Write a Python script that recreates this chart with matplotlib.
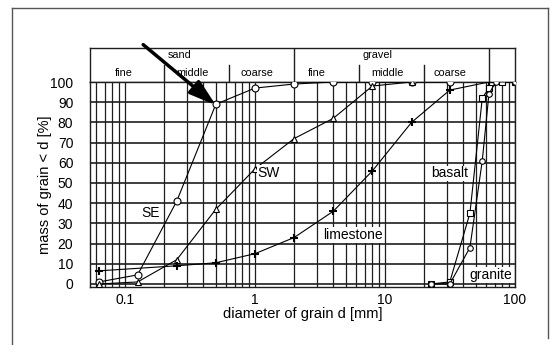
import matplotlib
matplotlib.use("Agg")
import matplotlib.pyplot as plt
from matplotlib.lines import Line2D
import numpy as np

plt.rcParams['font.family'] = ['Liberation Sans', 'DejaVu Sans']

# ---- data ----
d_se = [0.063, 0.125, 0.25, 0.5, 1, 2, 4, 8, 16, 31.5]
m_se = [1, 4.5, 41, 89, 97, 99, 100, 100, 100, 100]

d_sw = [0.063, 0.125, 0.25, 0.5, 1, 2, 4, 8, 16]
m_sw = [0, 1, 12, 37, 57, 72, 82, 98, 100]

d_ls = [0.063, 0.25, 0.5, 1, 2, 4, 8, 16, 31.5, 63]
m_ls = [6.5, 9, 10.5, 15, 23, 36, 56, 80, 96, 100]

d_ba = [22.4, 31.5, 45, 56, 63, 80, 100]
m_ba = [0, 1, 35, 92, 97, 100, 100]

d_gr = [22.4, 31.5, 45, 56, 63, 71, 100]
m_gr = [0, 0, 18, 61, 94, 100, 100]

y_ticks = list(range(0, 101, 10))
x_ticks = [0.1, 1, 10, 100]
x_ticklabels = ["0.1", "1", "10", "100"]

main_bounds = [0.063, 2, 63]            # sand / gravel
sub_bounds = [0.2, 0.63, 6.3, 20]        # fine / middle / coarse
group_labels = [("sand", 0.265), ("gravel", 8.7)]
sub_labels = [("fine", 0.097), ("middle", 0.333), ("coarse", 1.04),
              ("fine", 3.0), ("middle", 10.4), ("coarse", 31.6)]

W, H = 556, 345
fig = plt.figure(figsize=(W / 100, H / 100), dpi=100)

def px(x0, y0, x1, y1):
    return [x0 / W, 1 - y1 / H, (x1 - x0) / W, (y1 - y0) / H]

XL = (0.0538, 100)
lc = '#1e1e1e'

# figure frame
fig.add_artist(Line2D([12 / W, 548 / W], [1 - 8 / H, 1 - 8 / H], color='#555', lw=1))
fig.add_artist(Line2D([12 / W, 12 / W], [1 - 8 / H, 0], color='#555', lw=1))
fig.add_artist(Line2D([548 / W, 548 / W], [1 - 8 / H, 1 - 338 / H], color='#555', lw=1))

# header axes
axh = fig.add_axes(px(90, 48, 515, 82))
axh.set_xscale('log')
axh.set_xlim(*XL)
axh.set_ylim(0, 1)
axh.set_xticks([])
axh.set_yticks([])
axh.minorticks_off()
for s in axh.spines.values():
    s.set_color(lc)
    s.set_linewidth(1)
for b in main_bounds[1:]:
    axh.axvline(b, color=lc, lw=1)
for b in sub_bounds:
    axh.plot([b, b], [0, 0.5], color=lc, lw=1)
for t, x in group_labels:
    axh.text(x, 0.79, t, ha='center', va='center', fontsize=7.8)
for t, x in sub_labels:
    axh.text(x, 0.26, t, ha='center', va='center', fontsize=7.8)

# main axes
ax = fig.add_axes(px(90, 82, 515, 287))
ax.set_xscale('log')
ax.set_xlim(*XL)
ax.set_ylim(-1.5, 100)
ax.set_yticks(y_ticks)
ax.set_xticks(x_ticks)
ax.set_xticklabels(x_ticklabels)
ax.xaxis.set_minor_locator(matplotlib.ticker.LogLocator(base=10, subs=np.arange(2, 10)))
ax.xaxis.set_minor_formatter(matplotlib.ticker.NullFormatter())
ax.tick_params(axis='both', which='both', length=0, labelsize=10)
ax.tick_params(axis='y', pad=12)
ax.tick_params(axis='x', pad=4)
ax.grid(True, which='both', axis='x', color=lc, lw=0.9)
ax.grid(True, which='major', axis='y', color=lc, lw=1.2)
for s in ax.spines.values():
    s.set_color(lc)
    s.set_linewidth(1)

ax.plot(d_se, m_se, color='k', lw=0.8, marker='o', ms=5, mfc='white', mec='k', mew=0.8, zorder=3)
ax.plot(d_sw, m_sw, color='k', lw=0.8, marker='^', ms=5, mfc='white', mec='k', mew=0.8, zorder=3)
ax.plot(d_ls, m_ls, color='k', lw=0.8, marker='+', ms=6, mec='k', mew=1.5, zorder=3)
ax.plot(d_ba, m_ba, color='k', lw=0.8, marker='s', ms=4, mfc='white', mec='k', mew=0.8, zorder=3)
ax.plot(d_gr, m_gr, color='k', lw=0.8, marker='o', ms=4, mfc='white', mec='k', mew=0.8, zorder=3)

bb = dict(facecolor='white', edgecolor='none', pad=0.5)
ax.text(0.156, 35, "SE", ha='center', va='center', fontsize=10, bbox=bb, zorder=4)
ax.text(1.05, 55, "SW", ha='left', va='center', fontsize=10, bbox=bb, zorder=4)
ax.text(5.7, 24.3, "limestone", ha='center', va='center', fontsize=10, bbox=bb, zorder=4)
ax.text(31.6, 54.8, "basalt", ha='center', va='center', fontsize=10, bbox=bb, zorder=4)
ax.text(65, 4.5, "granite", ha='center', va='center', fontsize=10, bbox=bb, zorder=4)

ax.annotate('', xy=(0.5, 88.5), xytext=(0.138, 118.5),
            arrowprops=dict(arrowstyle='-|>,head_length=0.9,head_width=0.28',
                            lw=2.5, color='black', mutation_scale=18,
                            shrinkA=0, shrinkB=0),
            annotation_clip=False, zorder=10)

ax.set_ylabel("mass of grain < d [%]", fontsize=10.5, labelpad=-1)
ax.set_xlabel("diameter of grain d [mm]", fontsize=10.5, labelpad=0)

fig.savefig("out.png", dpi=100)
